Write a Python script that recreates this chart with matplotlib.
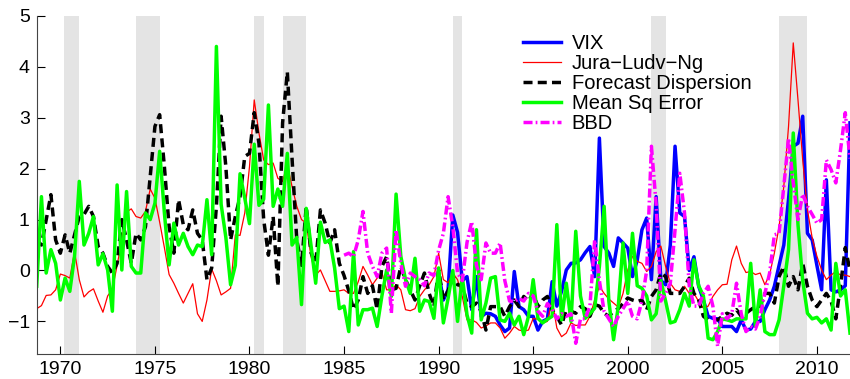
import numpy as np
import matplotlib
matplotlib.use('Agg')
import matplotlib.pyplot as plt

# quarterly series, first quarter 1968Q4 (VIX from 1990Q1, BBD from 1985Q1)
start_all = 1968.75
start_vix = 1990.0
start_bbd = 1985.0

jln = [-0.75,
       -0.69, -0.49, -0.48, -0.38,  -0.07, -0.10, -0.15, 0.37,  -0.18, -0.52, -0.42, -0.36,
       -0.60, -0.82, -0.50, -0.37,  0.10, 0.60, 1.15, 1.21,  1.06, 1.03, 1.16, 1.60,
       1.42, 0.95, 0.45, -0.08,  -0.25, -0.45, -0.64, -0.45,  -0.26, -0.85, -1.00, -0.58,
       0.03, -0.20, -0.48, -0.42,  -0.35, 0.70, 0.69, 1.13,  2.04, 3.35, 2.70, 2.17,
       2.08, 2.11, 1.81, 1.75,  2.08, 1.65, 1.26, 1.00,  0.93, 0.28, -0.09, 0.01,
       -0.20, -0.41, -0.41, -0.40,  -0.38, -0.45, -0.45, -0.22,  0.08, -0.09, -0.28, -0.15,
       -0.04, -0.38, -0.38, -0.28,  -0.38, -0.77, -0.79, -0.75,  -0.51, -0.38, -0.28, -0.12,
       0.34, -0.18, -0.24, -0.05,  -0.18, -0.51, -0.97, -0.97,  -1.02, -1.13, -1.09, -1.03,
       -1.03, -1.13, -1.33, -1.23,  -1.10, -1.17, -1.19, -1.17,  -0.94, -0.96, -1.03, -1.00,
       -0.58, -1.13, -1.30, -1.23,  -1.03, -1.08, -1.07, -1.07,  -0.90, -0.58, -0.31, -0.45,
       -0.56, -0.64, -0.72, -0.45,  0.01, 0.28, 0.18, 0.14,  -0.02, 0.08, 0.37, 0.48,
       0.08, -0.25, -0.38, -0.41,  -0.31, -0.45, -0.45, -0.61,  -0.74, -0.70, -0.51, -0.38,
       -0.28, -0.27, 0.21, 0.48,  0.14, -0.04, -0.02, -0.08,  -0.05, -0.28, -0.08, 0.34,
       0.86, 1.65, 2.83, 4.47,  3.35, 2.17, 1.19, 0.64,  0.28, 0.01, -0.18, -0.09,
       -0.02, -0.09, -0.09, -0.12]

disp = [0.60,
        0.50, 1.00, 1.49, 0.60,  0.34, 0.70, 0.34, 0.70,  1.06, 1.10, 1.26, 1.06,
        0.47, 0.34, 0.08, -0.05,  0.14, 1.00, 0.60, 0.14,  0.73, 0.60, 0.86, 1.85,
        2.83, 3.06, 2.04, 0.86,  0.34, 1.39, 0.90, 0.80,  1.19, 0.73, 0.60, -0.18,
        0.05, 1.26, 3.03, 2.04,  0.60, 1.06, 1.45, 2.24,  2.30, 3.10, 2.50, 1.00,
        0.30, 1.06, -0.31, 2.90,  3.90, 2.20, 0.60, 0.10,  1.26, 0.35, 0.14, 1.19,
        0.93, 0.54, 0.80, 0.14,  -0.10, -0.40, -0.77, -0.58,  -0.12, -0.45, -0.30, -0.77,
        0.08, 0.27, -0.38, -0.35,  0.08, -0.18, -0.38, -0.58,  -0.30, -0.05, -0.45, -0.71,
        0.01, -0.58, -0.40, -0.12,  -0.28, -0.30, -0.64, -0.71,  -0.64, -0.80, -1.17, -0.71,
        -0.71, -0.71, -0.90, -0.71,  -0.58, -0.71, -0.51, -0.60,  -0.45, -0.71, -0.58, -0.51,
        -0.77, -0.90, -1.07, -0.77,  -0.80, -0.84, -0.71, -0.75,  -0.90, -0.67, -0.70, -0.84,
        -0.90, -0.80, -0.75, -0.65,  -0.54, -0.58, -0.61, -0.58,  -0.77, -0.51, -0.38, -0.05,
        -0.12, -0.45, -0.45, -0.45,  -0.31, -0.15, -0.45, -0.58,  -0.90, -0.97, -0.97, -0.97,
        -0.90, -0.84, -0.88, -0.77,  -0.90, -0.84, -0.77, -0.71,  -0.70, -0.45, -0.45, -0.64,
        -0.12, 0.08, -0.31, -0.12,  -0.38, 0.14, -0.31, -0.58,  -0.71, -0.58, -0.45, -0.60,
        -0.95, -0.30, 0.45, 0.00]

mse = [-0.31,
       1.45, -0.05, 0.41, 0.14,  -0.58, -0.15, -0.41, 0.28,  1.75, 0.50, 0.73, 1.06,
       0.11, 0.33, 0.01, -0.80,  1.68, 0.01, 1.55, 0.08,  -0.05, -0.05, 1.13, 1.00,
       1.32, 2.34, 1.13, 0.11,  0.93, 0.50, 0.73, 0.47,  0.31, 0.50, 0.47, 1.39,
       0.31, 4.40, 1.30, 0.65,  -0.28, 0.10, 1.90, 1.42,  0.92, 2.48, 1.28, 1.40,
       3.25, 1.26, 1.60, 1.26,  2.30, 0.50, 0.65, -0.67,  1.22, 0.50, -0.25, 0.95,
       0.55, 0.60, 0.05, -0.75,  -0.70, -1.20, 0.37, -1.07,  -0.77, -0.77, -0.74, -1.10,
       -0.50, 0.01, -0.51, 1.50,  0.28, -0.18, -0.45, 0.24,  -0.80, -0.58, -0.61, -0.94,
       0.05, -1.03, -0.55, 0.00,  -1.00, -0.12, -0.87, -1.23,  0.80, -0.97, -0.64, -0.15,
       -0.12, -0.97, -1.00, -0.84,  -1.07, -0.90, -1.26, -0.90,  -0.18, -0.94, -1.03, -0.96,
       -0.90, 0.90, -0.97, -0.25,  -1.00, 0.77, -0.50, -0.94,  -0.85, -0.74, 0.08, 1.26,
       -0.60, -1.36, -0.70, 0.54,  -0.45, 0.73, -0.30, -0.35,  -0.50, -0.97, -0.85, -0.20,
       -0.60, -1.03, -1.00, -0.77,  -0.45, -0.70, 0.21, -0.30,  -0.50, -1.33, -1.36, -1.20,
       -0.95, -0.97, -1.00, -0.95,  -0.95, -0.95, 0.14, -1.10,  -0.38, -1.20, -1.26, -1.26,
       -0.97, -0.30, 0.41, 2.70,  0.90, -0.20, -0.84, -0.95,  -0.92, -1.03, -0.95, -1.17,
       0.14, -0.50, -0.38, -1.23]

vix = [-0.05, -0.58, -0.38, 1.09,  0.75, -0.20, -0.12, -0.77,  -0.12, -0.90, -0.84, -0.85,
       -0.90, -1.07, -1.20, -1.13,  -0.02, -0.71, -0.77, -0.90,  -0.90, -1.17, -1.00, -0.95,
       -0.22, -0.70, -0.41, 0.01,  0.14, 0.15, 0.21, 0.35,  0.47, -0.12, 2.60, 0.47,
       0.34, 0.08, 0.64, 0.54,  0.44, -0.12, 0.20, 0.80,  1.03, -0.18, 1.45, -0.20,
       -0.28, 0.50, 2.44, 1.13,  1.06, 0.00, 0.27, -0.31,  -0.58, -0.90, -0.94, -0.95,
       -1.10, -1.10, -1.10, -1.20,  -0.97, -1.17, -1.15, -1.00,  -1.00, -0.77, -0.58, -0.31,
       0.10, 0.50, 1.40, 2.44,  2.50, 3.03, 0.73, 0.60,  0.10, -0.38, 1.78, -0.38,
       -0.42, -0.38, -0.30, 2.90]

bbd = [0.30, 0.34, 0.27, 0.60,  1.16, 0.34, 0.08, -0.12,  0.34, 0.44, -0.84, 0.80,
       0.14, -0.31, -0.05, -0.12,  -0.18, -0.30, -0.05, -0.10,  0.40, 0.73, 1.45, 0.86,
       -0.05, -0.20, 0.55, 0.96,  0.10, -0.18, 0.54, 0.34,  0.34, 0.54, -0.20, -0.60,
       -0.61, -0.55, -0.60, -0.45,  -0.50, -0.80, -0.90, -0.65,  -0.75, -0.95, -0.85, -0.90,
       -0.85, -1.43, -0.95, -0.95,  -0.70, 0.60, -0.20, -0.80,  -0.95, -1.10, -0.90, -0.75,
       -0.60, -0.90, -0.95, -0.60,  0.00, 2.44, 1.30, -0.60,  -0.45, -0.25, 0.80, 1.91,
       1.13, -0.30, -0.70, -0.70,  -0.45, -0.31, -0.70, -1.49,  -0.85, -0.95, -0.85, -0.25,
       -0.85, -1.20, -1.10, -1.15,  -0.90, -0.45, -0.05, 0.70,  0.73, 1.65, 2.60, 1.72,
       1.00, 1.50, 1.26, 1.10,  0.93, 1.00, 2.17, 1.98,  1.72, 2.37, 3.10, 2.20]

recessions = [(1970.2, 1971.0), (1974.0, 1975.25), (1980.25, 1980.75), (1981.75, 1983.0),
              (1990.75, 1991.25), (2001.25, 2002.0), (2008.0, 2009.5)]

years = [1970, 1975, 1980, 1985, 1990, 1995, 2000, 2005, 2010]


def quarters(start, n):
    return start + 0.25 * np.arange(n)


plt.rcParams['font.family'] = ['Liberation Sans', 'DejaVu Sans']

fig = plt.figure(figsize=(8.5, 3.79), dpi=100)
ax = fig.add_axes([0.0432, 0.066, 0.9568, 0.892])

for a, b in recessions:
    ax.axvspan(a, b, color='#e4e4e4', lw=0, zorder=0)

ax.plot(quarters(start_vix, len(vix)), vix, color='blue', lw=2.5, label='VIX')
ax.plot(quarters(start_all, len(jln)), jln, color='red', lw=0.9, label='Jura\u2212Ludv\u2212Ng')
ax.plot(quarters(start_all, len(disp)), disp, color='black', lw=2.5,
        dashes=(2.6, 1.5), label='Forecast Dispersion')
ax.plot(quarters(start_all, len(mse)), mse, color='#00ff00', lw=2.5, label='Mean Sq Error')
ax.plot(quarters(start_bbd, len(bbd)), bbd, color='magenta', lw=2.5,
        dashes=(2.6, 0.9, 0.5, 0.9), label='BBD')

ax.set_xlim(1968.75, 2011.75)
ax.set_ylim(-1.64, 5)
ax.set_xticks(years)
ax.set_yticks(range(-1, 6))
ax.tick_params(direction='in', length=6, labelsize=14, colors='black', pad=5)
for s in ['top', 'right']:
    ax.spines[s].set_visible(False)
for s in ['left', 'bottom']:
    ax.spines[s].set_color('#444444')

ax.legend(loc='upper left', bbox_to_anchor=(0.588, 0.97), frameon=False,
          fontsize=14.5, handlelength=1.87, handletextpad=0.55, labelspacing=0.05,
          borderaxespad=0.0)

fig.savefig('out.png', dpi=100)
